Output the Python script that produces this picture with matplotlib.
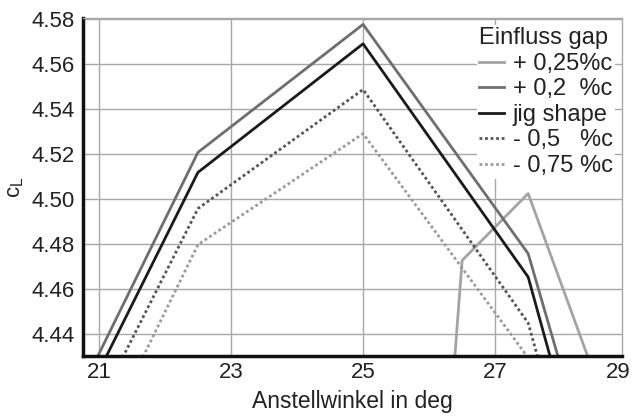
import matplotlib
matplotlib.use("Agg")
import matplotlib.pyplot as plt

plt.rcParams['font.family'] = ['Liberation Sans', 'DejaVu Sans']

x_main = [20.0, 22.5, 25.0, 27.5, 28.5]
cl_plus_02 = [4.3715, 4.5207, 4.5775, 4.4757, 4.3746]
cl_jig = [4.3646, 4.5118, 4.5689, 4.4653, 4.3590]
cl_minus_05 = [4.3507, 4.4957, 4.5486, 4.4449, 4.3400]
cl_minus_075 = [4.3300, 4.4797, 4.5290, 4.4295, 4.3300]

x_plus_025 = [26.25, 26.5, 27.5, 28.5]
cl_plus_025 = [4.376, 4.4727, 4.5024, 4.4222]

labels = ["+ 0,25%c", "+ 0,2  %c", "jig shape", "- 0,5   %c", "- 0,75 %c"]
xticks = [21, 23, 25, 27]
yticks = [4.44, 4.46, 4.48, 4.50, 4.52, 4.54, 4.56, 4.58]

fig = plt.figure(figsize=(6.34, 4.16), dpi=100)
ax = fig.add_axes([0.131, 0.144, 0.850, 0.813])

lw = 2.0
ax.plot(x_plus_025, cl_plus_025, color='#a3a3a3', lw=lw, label=labels[0])
ax.plot(x_main, cl_plus_02, color='#6e6e6e', lw=lw, label=labels[1])
ax.plot(x_main, cl_jig, color='#1a1a1a', lw=lw, label=labels[2])
ax.plot(x_main, cl_minus_05, color='#555555', lw=lw, ls=(0, (1, 1)), label=labels[3])
ax.plot(x_main, cl_minus_075, color='#9a9a9a', lw=lw, ls=(0, (1, 1)), label=labels[4])

ax.set_xlim(20.76, 28.92)
ax.set_ylim(4.4302, 4.5804)
ax.set_xticks(xticks)
ax.set_yticks(yticks)
ax.set_yticklabels([f"{v:.2f}" for v in yticks])
ax.grid(True, color='#a8a8a8', lw=1.0)
ax.set_axisbelow(True)
ax.tick_params(length=0, labelsize=16, labelcolor='#222222')
ax.tick_params(axis='x', pad=4)
ax.tick_params(axis='y', pad=6)

for s in ['left', 'bottom']:
    ax.spines[s].set_linewidth(2.5)
    ax.spines[s].set_color('#111111')
for s in ['top', 'right']:
    ax.spines[s].set_linewidth(1.0)
    ax.spines[s].set_color('#a8a8a8')

ax.annotate("29", xy=(1.016, 0), xycoords='axes fraction', xytext=(0, -4),
            textcoords='offset points', ha='right', va='top', fontsize=16,
            color='#222222', annotation_clip=False)

ax.set_xlabel("Anstellwinkel in deg", fontsize=16.5, color='#222222', labelpad=5)
ax.set_ylabel(r"$\mathregular{c_L}$", fontsize=16, color='#222222', labelpad=4)

leg = ax.legend(title="Einfluss gap", loc='upper right', bbox_to_anchor=(1.0, 1.0),
                fontsize=17, title_fontsize=17, frameon=True, fancybox=False,
                edgecolor='none', facecolor='white', framealpha=1.0,
                handlelength=1.05, handletextpad=0.35, labelspacing=0.15,
                borderpad=0.1, borderaxespad=0.3, alignment='left')
for t in leg.get_texts():
    t.set_color('#222222')
leg.get_title().set_color('#222222')

fig.savefig("out.png", dpi=100)
